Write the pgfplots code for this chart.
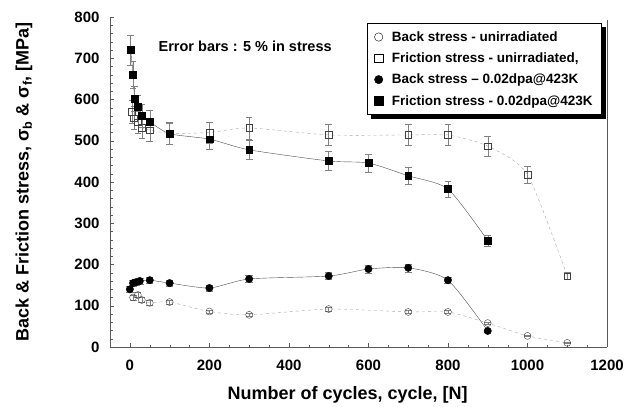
\documentclass[border=0pt]{standalone}
\usepackage{pgfplots}
\usepackage{pgfplotstable}
\pgfplotsset{compat=1.18}
\usepackage{fontspec}
\setmainfont{Liberation Sans}

% friction stress, irradiated
\pgfplotstableread{
x y
2 720
8 660
12 602
20 582
30 560
50 546
100 517
200 504
300 478
500 451
600 446
700 415
800 383
900 258
}\tabFI
% friction stress, unirradiated
\pgfplotstableread{
x y
5 570
10 555
20 545
30 532
50 526
100 518
200 520
300 531
500 514
700 514
800 514
900 487
1000 418
1100 172
}\tabFU
% back stress, irradiated
\pgfplotstableread{
x y
0 140
8 155
15 157
25 160
50 162
100 155
200 143
300 165
500 172
600 189
700 192
800 162
900 39
}\tabBI
% back stress, unirradiated
\pgfplotstableread{
x y
8 120
20 126
30 114
50 107
100 109
200 86
300 78
500 92
700 85
800 85
900 58
1000 27
1100 10
}\tabBU

\begin{document}
\begin{tikzpicture}
\begin{axis}[
    scale only axis,
    width=497pt, height=330pt,
    xmin=-50, xmax=1200, ymin=0, ymax=800,
    axis lines*=left,
    axis line style={gray!70!black},
    xtick={0,200,...,1200}, ytick={0,100,...,800},
    minor x tick num=3, minor y tick num=4,
    tick align=inside,
    tick style={gray!70!black},
    major tick length=4pt, minor tick length=2.5pt,
    ticklabel style={font=\bfseries\fontsize{15}{17}\selectfont},
    xticklabel style={yshift=-9pt},
    yticklabel style={xshift=-7pt},
    /pgf/number format/assume math mode=true,
    /pgf/number format/1000 sep={},
    every axis y label/.style={at={(axis description cs:-0.173,0.5)}, rotate=90, anchor=center},
    every axis x label/.style={at={(axis description cs:0.478,-0.145)}, anchor=center},
    label style={font=\bfseries\fontsize{18}{20}\selectfont},
    xlabel={Number of cycles, cycle, [N]},
    ylabel={Back \& Friction stress, σ\textsubscript{b} \& σ\textsubscript{f}, [MPa]},
    clip=false,
    legend style={name=leg, at={(axis cs:1187,785)}, anchor=north east, draw=black, fill=white,
        font=\bfseries\fontsize{13.5}{15}\selectfont, cells={anchor=west},
        row sep=6pt, column sep=7pt, inner xsep=7pt, inner ysep=6pt},
    legend image code/.code={\draw[#1, black] plot coordinates {(0.15cm,0cm)};},
    legend image post style={mark size=4.2pt, black},
    error bars/error bar style={gray, thin},
]
% lines
\addplot[forget plot, gray!60!black, thin, smooth, tension=0.4] table {\tabFI};
\addplot[forget plot, gray!70, thin, dashed, smooth, tension=0.4] table {\tabFU};
\addplot[forget plot, gray!60!black, thin, smooth, tension=0.4] table {\tabBI};
\addplot[forget plot, gray!70, thin, dashed, smooth, tension=0.4] table {\tabBU};
% marks with 5 % error bars
\addplot[only marks, mark=o, mark size=3.5pt, gray!50!black,
    error bars/.cd, y dir=both, y fixed relative=0.05] table {\tabBU};
\addplot[only marks, mark=square, mark size=3.3pt, gray!50!black,
    error bars/.cd, y dir=both, y fixed relative=0.05] table {\tabFU};
\addplot[only marks, mark=*, mark size=3.7pt, black,
    error bars/.cd, y dir=both, y fixed relative=0.05] table {\tabBI};
\addplot[only marks, mark=square*, mark size=3.4pt, black,
    error bars/.cd, y dir=both, y fixed relative=0.05] table {\tabFI};
\legend{Back stress - unirradiated, Friction stress - unirradiated{,},
    Back stress – 0.02dpa@423K, Friction stress - 0.02dpa@423K}
\draw[gray!70!black] (rel axis cs:1,0) -- (rel axis cs:1,0.99);
\node[font=\bfseries\fontsize{14.5}{16}\selectfont] at (axis cs:290,730) {Error bars : 5 \% in stress};
\end{axis}
% shadow of the legend box
\fill[black] ([yshift=-4pt]leg.north east) rectangle ([xshift=4pt,yshift=-4pt]leg.south east);
\fill[black] ([xshift=4pt]leg.south west) rectangle ([xshift=4pt,yshift=-4pt]leg.south east);
\path (current axis.south west) ++(-110pt,-59pt);
\path (current axis.north east) ++(34pt,17pt);
\end{tikzpicture}
\end{document}
